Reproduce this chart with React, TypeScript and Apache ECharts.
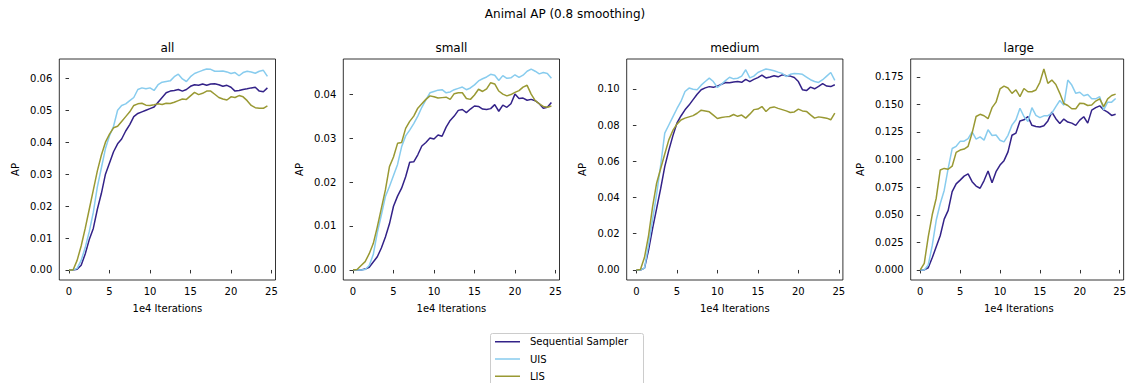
import React, { useEffect, useRef } from "react";
import * as echarts from "echarts";

const ITER = [
  0, 0.5, 1, 1.5, 2, 2.5, 3, 3.5, 4, 4.5, 5, 5.5, 6, 6.5, 7, 7.5, 8, 8.5, 9, 9.5,
  10, 10.5, 11, 11.5, 12, 12.5, 13, 13.5, 14, 14.5, 15, 15.5, 16, 16.5, 17, 17.5, 18, 18.5, 19, 19.5,
  20, 20.5, 21, 21.5, 22, 22.5, 23, 23.5, 24, 24.5,
];

const ALL_SEQ = [
  0, 0, 0.0002, 0.0015, 0.005, 0.0095, 0.013, 0.019, 0.024, 0.03,
  0.0335, 0.037, 0.0395, 0.041, 0.0435, 0.0455, 0.048, 0.049, 0.0495, 0.05,
  0.0505, 0.051, 0.0525, 0.054, 0.0555, 0.056, 0.0562, 0.0565, 0.056, 0.0565,
  0.0575, 0.058, 0.0578, 0.0582, 0.0578, 0.0582, 0.0583, 0.058, 0.0575, 0.0578,
  0.0572, 0.056, 0.0562, 0.0565, 0.0567, 0.057, 0.0572, 0.056, 0.0558, 0.057,
];
const ALL_UIS = [
  0, 0, 0.0005, 0.003, 0.007, 0.012, 0.018, 0.026, 0.032, 0.038,
  0.042, 0.045, 0.05, 0.0515, 0.052, 0.053, 0.054, 0.0565, 0.057, 0.0567,
  0.057, 0.0562, 0.058, 0.0588, 0.059, 0.0592, 0.0605, 0.0613, 0.0598, 0.059,
  0.0605, 0.0615, 0.062, 0.0625, 0.0629, 0.0628, 0.0622, 0.0622, 0.0623, 0.062,
  0.0615, 0.0618, 0.0608, 0.0618, 0.0622, 0.062, 0.0616, 0.0622, 0.0625, 0.0606,
];
const ALL_LIS = [
  0, 0, 0.003, 0.0075, 0.013, 0.019, 0.025, 0.031, 0.036, 0.04,
  0.0425, 0.0445, 0.045, 0.0465, 0.048, 0.0495, 0.0515, 0.052, 0.0522, 0.0516,
  0.0515, 0.0517, 0.052, 0.0518, 0.0522, 0.0521, 0.0525, 0.053, 0.0535, 0.0534,
  0.0545, 0.0556, 0.0549, 0.0553, 0.056, 0.056, 0.055, 0.054, 0.0535, 0.0532,
  0.0542, 0.054, 0.0546, 0.0542, 0.053, 0.0515, 0.0508, 0.0506, 0.0506, 0.0514,
];

const SMALL_SEQ = [
  0, 0, 0, 0.0002, 0.0006, 0.0018, 0.003, 0.005, 0.0075, 0.0105,
  0.0145, 0.0168, 0.0186, 0.0212, 0.0245, 0.0246, 0.0262, 0.0282, 0.029, 0.03,
  0.0298, 0.0307, 0.0304, 0.0325, 0.034, 0.035, 0.0363, 0.0365, 0.0358, 0.0366,
  0.0373, 0.0372, 0.0366, 0.0365, 0.0367, 0.0376, 0.0361, 0.0375, 0.037, 0.0378,
  0.04, 0.039, 0.0391, 0.0386, 0.0388, 0.0385, 0.0378, 0.0368, 0.037, 0.0381,
];
const SMALL_UIS = [
  0, 0, 0, 0.0001, 0.001, 0.0035, 0.0085, 0.0125, 0.0167, 0.019,
  0.0215, 0.024, 0.028, 0.0305, 0.0318, 0.0333, 0.035, 0.037, 0.0387, 0.0403,
  0.0406, 0.0409, 0.041, 0.0403, 0.0405, 0.041, 0.0413, 0.0416, 0.041, 0.0414,
  0.0421, 0.043, 0.0435, 0.0439, 0.0445, 0.0443, 0.0431, 0.0442, 0.0436, 0.0437,
  0.0444, 0.0438, 0.0443, 0.0452, 0.0457, 0.0452, 0.0446, 0.0449, 0.0447, 0.0436,
];
const SMALL_LIS = [
  0, 0.0001, 0.001, 0.0019, 0.0037, 0.006, 0.0098, 0.014, 0.0182, 0.0235,
  0.0257, 0.0288, 0.029, 0.0322, 0.0338, 0.035, 0.0368, 0.0378, 0.0388, 0.0396,
  0.0394, 0.0391, 0.0392, 0.0393, 0.0388, 0.0401, 0.0403, 0.0403, 0.039, 0.0388,
  0.0398, 0.0411, 0.0406, 0.0412, 0.0426, 0.0423, 0.0407, 0.04, 0.0396, 0.0399,
  0.0404, 0.0408, 0.0416, 0.042, 0.04, 0.0385, 0.0378, 0.0372, 0.037, 0.0373,
];

const MED_SEQ = [
  0, 0, 0.001, 0.011, 0.023, 0.034, 0.045, 0.057, 0.066, 0.074,
  0.081, 0.085, 0.0884, 0.091, 0.094, 0.097, 0.0995, 0.1005, 0.1012, 0.1008,
  0.1015, 0.1025, 0.1035, 0.1033, 0.1037, 0.104, 0.1036, 0.1052, 0.104, 0.1052,
  0.1062, 0.1075, 0.106, 0.1065, 0.1072, 0.1066, 0.1077, 0.1072, 0.107, 0.1062,
  0.104, 0.0995, 0.099, 0.1009, 0.1, 0.1013, 0.1028, 0.1015, 0.1012, 0.1022,
];
const MED_UIS = [
  0, 0, 0.001, 0.014, 0.028, 0.042, 0.058, 0.0755, 0.08, 0.0845,
  0.089, 0.093, 0.0985, 0.1004, 0.0997, 0.0995, 0.102, 0.104, 0.1059, 0.104,
  0.1007, 0.1025, 0.1045, 0.1064, 0.1055, 0.1058, 0.107, 0.1105, 0.106, 0.107,
  0.109, 0.11, 0.1109, 0.1105, 0.11, 0.1092, 0.1085, 0.1068, 0.108, 0.1085,
  0.1083, 0.108, 0.1065, 0.105, 0.104, 0.1035, 0.105, 0.107, 0.109, 0.1046,
];
const MED_LIS = [
  0, 0.0002, 0.007, 0.019, 0.035, 0.048, 0.056, 0.064, 0.0718, 0.077,
  0.0805, 0.0828, 0.0838, 0.0845, 0.0852, 0.0865, 0.0882, 0.0878, 0.0873, 0.0855,
  0.0836, 0.0842, 0.0845, 0.0847, 0.0858, 0.0848, 0.0855, 0.0838, 0.086, 0.0885,
  0.0888, 0.0902, 0.0875, 0.0895, 0.09, 0.0892, 0.0885, 0.0878, 0.0869, 0.0872,
  0.0888, 0.0878, 0.0875, 0.0856, 0.0838, 0.0845, 0.0842, 0.0838, 0.0829, 0.0866,
];

const LARGE_SEQ = [
  0, 0, 0.002, 0.011, 0.021, 0.031, 0.046, 0.054, 0.071, 0.078,
  0.0814, 0.085, 0.087, 0.08, 0.076, 0.074, 0.081, 0.0896, 0.079, 0.089,
  0.095, 0.099, 0.107, 0.122, 0.124, 0.135, 0.136, 0.139, 0.131, 0.13,
  0.1295, 0.1306, 0.135, 0.143, 0.137, 0.1327, 0.1367, 0.134, 0.133, 0.131,
  0.1357, 0.1388, 0.133, 0.1448, 0.147, 0.1487, 0.145, 0.143, 0.14, 0.141,
];
const LARGE_UIS = [
  0, 0, 0.0045, 0.022, 0.045, 0.06, 0.072, 0.092, 0.11, 0.112,
  0.1165, 0.1167, 0.119, 0.125, 0.1185, 0.1205, 0.1176, 0.127, 0.1218, 0.1222,
  0.1175, 0.116, 0.122, 0.1312, 0.136, 0.1465, 0.139, 0.1345, 0.147, 0.14,
  0.138, 0.1396, 0.1398, 0.142, 0.148, 0.1535, 0.1493, 0.172, 0.1675, 0.16,
  0.161, 0.1578, 0.159, 0.155, 0.155, 0.157, 0.145, 0.152, 0.152, 0.1553,
];
const LARGE_LIS = [
  0, 0.006, 0.03, 0.05, 0.065, 0.0905, 0.092, 0.0912, 0.094, 0.1065,
  0.1086, 0.1095, 0.112, 0.124, 0.139, 0.141, 0.1397, 0.137, 0.147, 0.152,
  0.164, 0.1665, 0.1648, 0.16, 0.1632, 0.157, 0.1644, 0.1614, 0.1614, 0.163,
  0.17, 0.182, 0.169, 0.172, 0.168, 0.16, 0.1508, 0.149, 0.146, 0.146,
  0.151, 0.1508, 0.149, 0.1495, 0.153, 0.155, 0.148, 0.155, 0.158, 0.1593,
];

const SERIES_NAMES = ["Sequential Sampler", "UIS", "LIS"];
const COLORS = ["#332288", "#88CCEE", "#999933"];
const PANEL_TITLES = ["all", "small", "medium", "large"];
const X_TICKS = [0, 5, 10, 15, 20, 25];
const Y_TICKS_ALL = [0, 0.01, 0.02, 0.03, 0.04, 0.05, 0.06];
const Y_TICKS_SMALL = [0, 0.01, 0.02, 0.03, 0.04];
const Y_TICKS_MED = [0, 0.02, 0.04, 0.06, 0.08, 0.1];
const Y_TICKS_LARGE = [0, 0.025, 0.05, 0.075, 0.1, 0.125, 0.15, 0.175];
const SUPTITLE = "Animal AP (0.8 smoothing)";
const X_LABEL = "1e4 Iterations";
const Y_LABEL = "AP";

const PANELS = [
  { data: [ALL_SEQ, ALL_UIS, ALL_LIS], ticks: Y_TICKS_ALL, dec: 2 },
  { data: [SMALL_SEQ, SMALL_UIS, SMALL_LIS], ticks: Y_TICKS_SMALL, dec: 2 },
  { data: [MED_SEQ, MED_UIS, MED_LIS], ticks: Y_TICKS_MED, dec: 2 },
  { data: [LARGE_SEQ, LARGE_UIS, LARGE_LIS], ticks: Y_TICKS_LARGE, dec: 3 },
];

const FONT = "DejaVu Sans";
const GRID_LEFTS = [59.3, 343.3, 626.7, 910.7];
const GRID_W = 216.2;
const GRID_TOP = 59;
const GRID_H = 221;
const X_MIN = -1.2;
const X_MAX = 25.5;
// thin horizontal line icon, padded with zero-area segments so its box spans 25x10
const LINE_ICON = "path://M0,0L0.01,0M0,4.25H25V5.75H0ZM0,10L0.01,10M25,0L25.01,0";

export default function App() {
  const ref = useRef<HTMLDivElement>(null);
  useEffect(() => {
    const chart = echarts.init(ref.current!, null, { renderer: "svg" });
    const grids: any[] = [];
    const xAxes: any[] = [];
    const yAxes: any[] = [];
    const series: any[] = [];
    const graphics: any[] = [];

    PANELS.forEach((p, i) => {
      let lo = Infinity;
      let hi = -Infinity;
      p.data.forEach((arr) => arr.forEach((v) => { lo = Math.min(lo, v); hi = Math.max(hi, v); }));
      const pad = (hi - lo) * 0.05;
      grids.push({
        left: GRID_LEFTS[i], top: GRID_TOP, width: GRID_W, height: GRID_H,
        show: true, borderColor: "#000", borderWidth: 0.8, backgroundColor: "transparent",
      });
      xAxes.push({
        type: "value", gridIndex: i, min: X_MIN, max: X_MAX,
        axisLine: { show: false },
        axisTick: { show: true, length: 3.5, lineStyle: { color: "#000", width: 0.8 }, customValues: X_TICKS },
        axisLabel: { color: "#000", fontFamily: FONT, fontSize: 10, margin: 6, customValues: X_TICKS, formatter: (v: number) => String(v) },
        splitLine: { show: false },
      });
      yAxes.push({
        type: "value", gridIndex: i, min: lo - pad, max: hi + pad,
        axisLine: { show: false },
        axisTick: { show: true, length: 3.5, lineStyle: { color: "#000", width: 0.8 }, customValues: p.ticks },
        axisLabel: { color: "#000", fontFamily: FONT, fontSize: 10, margin: 7, customValues: p.ticks, formatter: (v: number) => v.toFixed(p.dec) },
        splitLine: { show: false },
      });
      p.data.forEach((arr, k) => {
        series.push({
          type: "line", name: SERIES_NAMES[k], xAxisIndex: i, yAxisIndex: i,
          data: ITER.map((x, j) => [x, arr[j]]),
          symbol: "none", showSymbol: false,
          lineStyle: { color: COLORS[k], width: 1.5 },
          itemStyle: { color: COLORS[k] },
        });
      });
      const cx = GRID_LEFTS[i] + GRID_W / 2;
      graphics.push({
        type: "text", x: cx, y: 48,
        style: { text: PANEL_TITLES[i], fontFamily: FONT, fontSize: 12, fill: "#000", textAlign: "center", textVerticalAlign: "middle" },
      });
      graphics.push({
        type: "text", x: cx, y: 308,
        style: { text: X_LABEL, fontFamily: FONT, fontSize: 10, fill: "#000", textAlign: "center", textVerticalAlign: "middle" },
      });
      graphics.push({
        type: "text", x: GRID_LEFTS[i] - (p.dec === 3 ? 50.5 : 44), y: GRID_TOP + GRID_H / 2, rotation: Math.PI / 2,
        style: { text: Y_LABEL, fontFamily: FONT, fontSize: 10, fill: "#000", textAlign: "center", textVerticalAlign: "middle" },
      });
    });

    graphics.push({
      type: "text", x: 565, y: 14,
      style: { text: SUPTITLE, fontFamily: FONT, fontSize: 12, fill: "#000", textAlign: "center", textVerticalAlign: "middle" },
    });
    graphics.push({
      type: "rect", z: 0, shape: { x: 490.5, y: 333.5, width: 153, height: 80, r: 2 },
      style: { fill: "#fff", stroke: "#cccccc", lineWidth: 1 },
    });

    chart.setOption({
      animation: false,
      grid: grids,
      xAxis: xAxes,
      yAxis: yAxes,
      series,
      graphic: graphics,
      legend: {
        data: SERIES_NAMES.map((n) => ({ name: n, icon: LINE_ICON })),
        orient: "vertical",
        left: 495, top: 336.7, padding: 0,
        itemWidth: 25, itemHeight: 10, itemGap: 7.3,
        textStyle: { fontFamily: FONT, fontSize: 10, color: "#000", padding: [0, 0, 0, 5] },
        selectedMode: false,
        z: 10,
      },
    });
    return () => chart.dispose();
  }, []);
  return <div ref={ref} style={{ position: "fixed", left: 0, top: 0, width: 1129, height: 383, background: "#fff" }} />;
}
